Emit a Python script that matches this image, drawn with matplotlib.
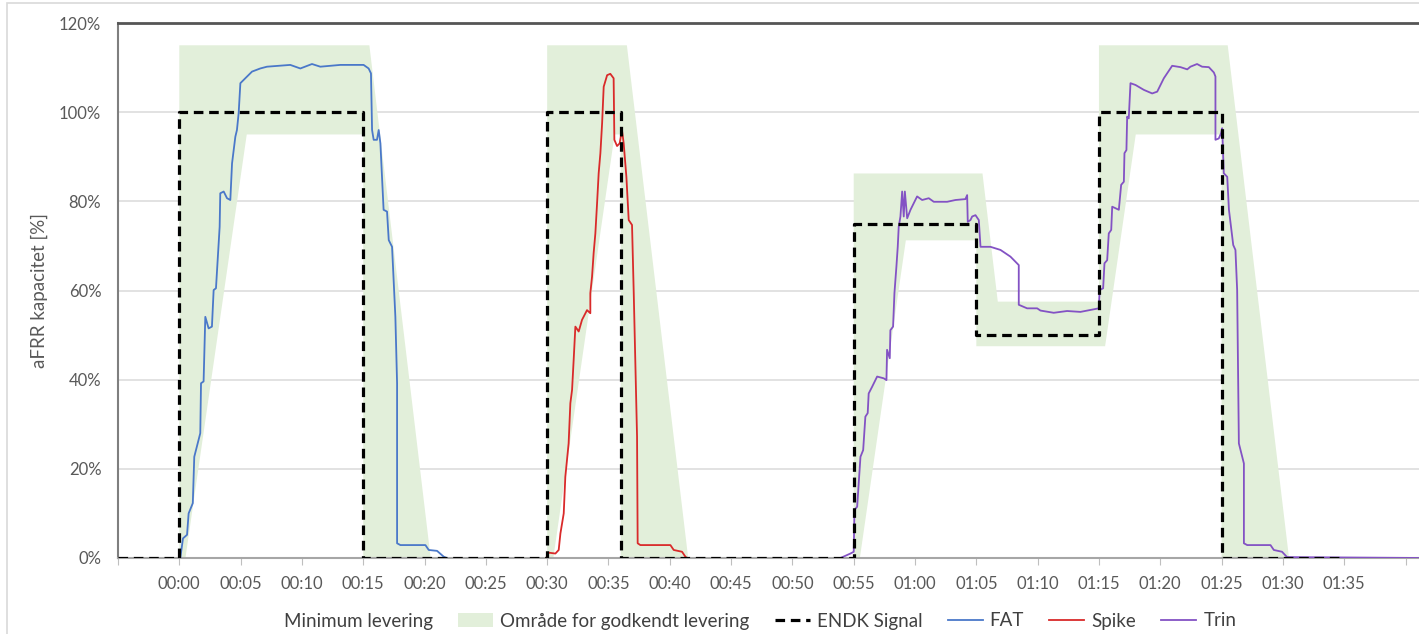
import numpy as np
import matplotlib
matplotlib.use('Agg')
from matplotlib import pyplot as plt
from matplotlib.patches import Patch, Rectangle
from matplotlib.lines import Line2D

# time in minutes, values in percent
sig_t = [-5, 0, 15, 30, 36, 55, 65, 75, 85, 95]
sig_v = [0, 100, 0, 100, 0, 75, 50, 100, 0, 0]

upper_t = [0, 0, 15.5, 20.5, 30, 30, 36.5, 41.5, 55, 55, 65.5, 66.75, 75, 75, 85.5, 90.5]
upper_v = [0, 115, 115, 0, 0, 115, 115, 0, 0, 86.25, 86.25, 57.5, 57.5, 115, 115, 0]
lower_t = [0.5, 5.5, 15, 15, 30.5, 35.5, 36, 36, 55.5, 59.25, 65, 65, 75.5, 78, 85, 85]
lower_v = [0, 95, 95, 0, 0, 95, 95, 0, 0, 71.25, 71.25, 47.5, 47.5, 95, 95, 0]

fat_t = [0, 0.08, 0.3, 0.63, 0.76, 1.1, 1.22, 1.71, 1.77, 1.98, 2.12, 2.39, 2.66, 2.8, 2.99,
         3.29, 3.34, 3.62, 3.89, 4.16, 4.3, 4.57, 4.7, 4.84, 4.98, 5.38, 5.93, 6.6, 7.15,
         9.05, 9.87, 10.82, 11.5, 13.13, 15.03, 15.44, 15.63, 15.72, 15.85, 16.12, 16.26,
         16.4, 16.53, 16.66, 16.94, 17.08, 17.35, 17.62, 17.76, 17.76, 18.03, 20.07, 20.34,
         21.02, 21.56, 21.8]
fat_v = [0, 0, 4.4, 5.2, 10, 12.3, 22.7, 28, 39.2, 39.6, 54.1, 51.5, 51.9, 60.1, 60.5,
         74.3, 81.8, 82.2, 80.7, 80.3, 88.5, 94.5, 96, 99.8, 106.5, 107.6, 109.1, 109.8, 110.2,
         110.6, 109.8, 110.8, 110.2, 110.6, 110.6, 109.8, 108.7, 96, 93.8, 93.8, 96,
         93, 85.5, 78.1, 77.7, 71.3, 69.8, 54.1, 39.2, 3.3, 2.9, 2.9, 1.8,
         1.6, 0.3, 0]

spike_t = [29.93, 30.12, 30.67, 30.94, 31.08, 31.35, 31.48, 31.75, 31.89, 32.03, 32.16, 32.3,
           32.57, 32.84, 33.25, 33.52, 33.52, 33.66, 33.79, 33.93, 34.07, 34.2, 34.34, 34.48,
           34.61, 34.89, 35.15, 35.42, 35.48, 35.7, 35.91, 36.1, 36.24, 36.46, 36.65, 36.92,
           37.06, 37.33, 37.38, 37.6, 40.05, 40.32, 41.0, 41.27, 41.4]
spike_v = [0, 1.2, 1.0, 1.8, 5.5, 10, 18.2, 25.7, 34.7, 37.7, 44.4, 51.9,
           50.8, 53.4, 55.6, 54.9, 59.4, 63.1, 68.4, 72.8, 79.6, 86.3, 90.8, 97.5,
           105.7, 108.3, 108.6, 107.6, 93.8, 92.4, 93, 96, 93, 85.5, 75.8, 74.7,
           59.4, 27.2, 3.3, 2.9, 2.9, 1.8, 1.4, 0.3, 0]

trin_t = [53.92, 54.73, 55.0, 55.06, 55.28, 55.55, 55.77, 55.95, 56.14, 56.22, 56.5, 56.91,
          57.45, 57.67, 57.72, 57.94, 57.99, 58.21, 58.32, 58.48, 58.59, 58.67, 58.81, 58.95,
          59.08, 59.17, 59.36, 59.63, 60.17, 60.58, 61.12, 61.53, 62.62, 63.3, 64.11, 64.25,
          64.3, 64.52, 64.66, 64.93, 65.2, 65.34, 65.61, 66.15, 66.97, 67.78, 68.46, 68.46,
          69.14, 69.96, 70.23, 71.31, 72.4, 73.49, 74.98, 75.06, 75.34, 75.45, 75.67, 75.8,
          76.0, 76.08, 76.62, 76.81, 77.03, 77.08, 77.24, 77.3, 77.43, 77.57, 77.98, 78.66,
          79.34, 79.75, 80.29, 80.97, 81.65, 82.2, 82.46, 83.0, 83.41, 83.96, 84.37, 84.5,
          84.5, 84.77, 84.96, 85.05, 85.18, 85.46, 85.6, 85.95, 86.13, 86.27, 86.41, 86.82,
          86.82, 87.09, 88.99, 89.26, 89.93, 90.34, 101.5]
trin_v = [0, 1.0, 1.4, 10.8, 11.5, 22.7, 24.2, 31.7, 32.5, 36.9, 38.4, 40.7,
          40.3, 39.9, 46.7, 44.8, 51.1, 51.9, 59.4, 65.3, 69.8, 74.3, 76.6, 82.2,
          76.6, 82.2, 76.2, 78.1, 81.1, 80.3, 80.7, 79.9, 79.9, 80.3, 80.5, 81.4,
          75.4, 75.8, 76.6, 76.9, 75.8, 69.8, 69.8, 69.8, 69.1, 67.6, 65.7, 56.8,
          56.0, 56.0, 55.5, 55.0, 55.4, 55.2, 56.0, 60.1, 60.5, 66.1, 66.8, 72.8,
          73.6, 78.8, 78.1, 83.7, 84.4, 90.8, 91.5, 99, 98.6, 106.5, 106.1, 105,
          104.2, 104.6, 107.6, 110.4, 110.1, 109.6, 110.2, 110.8, 110.2, 110.1, 108.9, 108,
          93.8, 94.1, 95.3, 96.4, 86.3, 85.5, 78.1, 70.2, 69.1, 60.1, 25.7, 21.2,
          3.3, 2.9, 2.9, 1.8, 1.4, 0.2, 0]

tick_min = list(range(-5, 105, 5))
yticks = [0, 20, 40, 60, 80, 100, 120]

plt.rcParams['font.family'] = ['Lato', 'DejaVu Sans']
fig = plt.figure(figsize=(14.19, 6.34), dpi=100)
ax = fig.add_axes([118/1419, 1-558/634, 1-118/1419, (558-23)/634])

fig.patches.append(Rectangle((7/1419, -0.1), 1.2, 1.1-3/634, transform=fig.transFigure,
                             fill=False, edgecolor='#d9d9d9', lw=1.2, zorder=-10))

green = '#e2efda'
poly_x = upper_t + lower_t[::-1]
poly_y = upper_v + lower_v[::-1]
ax.fill(poly_x, poly_y, color=green, lw=0, zorder=1)

ax.plot(fat_t, fat_v, color='#4a78c9', lw=1.3, zorder=3)
ax.plot(spike_t, spike_v, color='#d92a2a', lw=1.3, zorder=3)
ax.plot(trin_t, trin_v, color='#8352c4', lw=1.3, zorder=3)
ax.plot(sig_t, sig_v, color='black', lw=2.3, ls=(0, (3, 1.8)), drawstyle='steps-post', zorder=4)

ax.set_xlim(-5, 101.1)
ax.set_ylim(0, 120)
ax.set_xticks(tick_min)
labels = []
for m in tick_min:
    if m < 0 or m >= 100:
        labels.append('')
    else:
        labels.append('%02d:%02d' % (m // 60, m % 60))
ax.set_xticklabels(labels)
ax.set_yticks(yticks)
ax.set_yticklabels(['%d%%' % v for v in yticks])
ax.grid(axis='y', color='#dddddd', lw=1.2, zorder=0)
ax.set_axisbelow(True)
ax.tick_params(axis='y', length=0, pad=12, labelsize=12, labelcolor='#595959')
ax.tick_params(axis='x', length=5, color='#bfbfbf', pad=8, labelsize=12, labelcolor='#595959')
ax.spines['right'].set_visible(False)
ax.spines['top'].set_color('#555555')
ax.spines['top'].set_linewidth(2)
ax.spines['left'].set_color('#7f7f7f')
ax.spines['left'].set_linewidth(1.5)
ax.spines['bottom'].set_color('#a6a6a6')
ax.spines['bottom'].set_linewidth(1.5)
ax.set_ylabel('aFRR kapacitet [%]', fontsize=13.5, color='#595959', labelpad=8)

handles = [Patch(facecolor='white', edgecolor='none'),
           Patch(facecolor=green, edgecolor='none'),
           Line2D([], [], color='black', lw=2.3, ls=(0, (3, 1.8))),
           Line2D([], [], color='#4a78c9', lw=1.3),
           Line2D([], [], color='#d92a2a', lw=1.3),
           Line2D([], [], color='#8352c4', lw=1.3)]
names = ['Minimum levering', 'Område for godkendt levering', 'ENDK Signal', 'FAT', 'Spike', 'Trin']
fig.legend(handles, names, loc='center', bbox_to_anchor=(739/1419, 1-621/634), ncol=6,
           frameon=False, fontsize=13.5, labelcolor='#404040', handlelength=1.87,
           handletextpad=0.37, columnspacing=1.35)

fig.savefig('out.png', dpi=100)
